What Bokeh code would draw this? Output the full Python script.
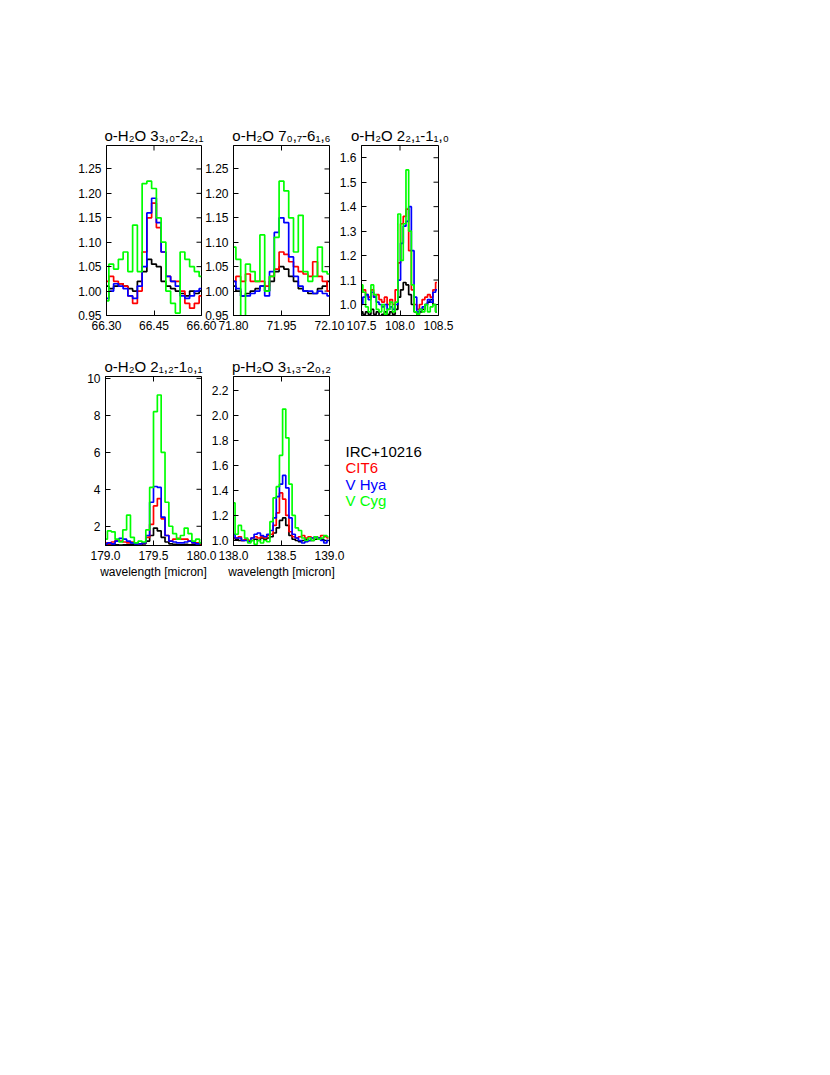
from bokeh.plotting import figure
from bokeh.models import Range1d, FixedTicker, PrintfTickFormatter, Spacer
from bokeh.layouts import row, column
from bokeh.embed import file_html
from bokeh.resources import INLINE
from bokeh.core.properties import value

FONT = "Liberation Sans"

names = ["IRC+10216", "CIT6", "V Hya", "V Cyg"]
colors = ["#000000", "#ff0000", "#0000ff", "#00ff00"]

# ---------- panel 1: o-H2O 3_30-2_21 ----------
title1 = "o-H\u2082O 3\u2083,\u2080-2\u2082,\u2081"
wl1 = [66.300, 66.315, 66.330, 66.345, 66.360, 66.375, 66.390, 66.405, 66.420, 66.435, 66.450,
       66.465, 66.480, 66.495, 66.510, 66.525, 66.540, 66.555, 66.570, 66.585, 66.600]
irc1 = [1.010, 1.005, 1.010, 1.015, 1.010, 1.005, 1.000, 1.020, 1.040, 1.065, 1.055,
        1.050, 1.020, 1.010, 1.005, 1.000, 0.995, 0.990, 1.000, 0.995, 1.000]
cit1 = [1.020, 1.030, 1.020, 1.015, 1.010, 0.990, 0.975, 1.000, 1.080, 1.150, 1.180,
        1.130, 1.080, 1.030, 1.020, 1.020, 1.000, 0.975, 0.965, 0.975, 0.990]
vhya1 = [0.985, 1.000, 1.015, 1.010, 1.005, 0.990, 0.985, 1.010, 1.050, 1.160, 1.190,
         1.140, 1.080, 1.030, 1.020, 1.010, 0.990, 0.985, 0.990, 1.000, 1.005]
vcyg1 = [0.980, 1.055, 1.045, 1.065, 1.080, 1.040, 1.135, 1.040, 1.220, 1.225, 1.210,
         1.150, 1.100, 1.000, 0.975, 0.955, 1.080, 1.065, 1.050, 1.040, 1.030]
xr1 = (66.30, 66.60)
yr1 = (0.95, 1.298)
xt1 = [66.30, 66.45, 66.60]
yt1 = [0.95, 1.00, 1.05, 1.10, 1.15, 1.20, 1.25]

# ---------- panel 2: o-H2O 7_07-6_16 ----------
title2 = "o-H\u2082O 7\u2080,\u2087-6\u2081,\u2086"
wl2 = [71.800, 71.815, 71.830, 71.845, 71.860, 71.875, 71.890, 71.905, 71.920, 71.935, 71.950,
       71.965, 71.980, 71.995, 72.010, 72.025, 72.040, 72.055, 72.070, 72.085, 72.100]
irc2 = [1.010, 1.000, 0.990, 0.995, 1.000, 1.005, 1.010, 1.000, 1.020, 1.040, 1.050,
        1.045, 1.030, 1.020, 1.005, 1.000, 0.995, 0.995, 1.005, 1.010, 1.020]
cit2 = [1.020, 1.030, 1.020, 1.035, 1.020, 1.020, 1.020, 1.010, 1.030, 1.045, 1.080,
        1.075, 1.060, 1.050, 1.040, 1.035, 1.030, 1.060, 1.030, 1.020, 1.000]
vhya2 = [1.020, 1.005, 0.990, 0.990, 0.995, 1.000, 1.010, 0.990, 1.040, 1.120, 1.150,
         1.140, 1.070, 1.030, 1.010, 1.000, 1.000, 0.995, 1.000, 0.995, 0.990]
vcyg2 = [1.090, 1.065, 0.930, 1.055, 1.040, 1.020, 1.115, 1.000, 1.030, 1.110, 1.225,
         1.205, 1.150, 1.080, 1.155, 1.040, 1.020, 1.030, 1.090, 1.040, 1.035]
xr2 = (71.80, 72.10)
yr2 = (0.95, 1.298)
xt2 = [71.80, 71.95, 72.10]
yt2 = [0.95, 1.00, 1.05, 1.10, 1.15, 1.20, 1.25]

# ---------- panel 3: o-H2O 2_21-1_10 ----------
title3 = "o-H\u2082O 2\u2082,\u2081-1\u2081,\u2080"
wl3 = [107.500, 107.535, 107.570, 107.605, 107.640, 107.675, 107.710, 107.745, 107.780, 107.815,
       107.850, 107.885, 107.920, 107.955, 107.990, 108.025, 108.060, 108.095, 108.130, 108.165,
       108.200, 108.235, 108.270, 108.305, 108.340, 108.375, 108.410, 108.445, 108.480]
irc3 = [0.97, 0.96, 0.97, 0.96, 0.98, 0.96, 0.97, 0.95, 0.96, 0.97,
        0.96, 0.97, 0.96, 0.98, 1.03, 1.06, 1.09, 1.08, 1.04, 1.00,
        0.97, 0.96, 0.97, 0.98, 1.00, 1.01, 1.02, 1.00, 0.97]
cit3 = [1.05, 1.06, 1.04, 1.03, 1.06, 1.03, 1.04, 1.02, 1.01, 1.03,
        1.00, 1.02, 1.00, 1.06, 1.17, 1.33, 1.36, 1.39, 1.22, 1.06,
        1.00, 0.98, 1.00, 1.02, 1.03, 1.04, 1.03, 1.06, 1.09]
vhya3 = [1.00, 1.03, 1.04, 1.02, 1.05, 1.03, 1.01, 1.00, 0.99, 1.00,
         0.98, 0.99, 0.98, 1.00, 1.10, 1.25, 1.32, 1.34, 1.40, 1.22,
         1.03, 0.97, 0.98, 0.99, 1.00, 1.02, 1.01, 1.05, 1.06]
vcyg3 = [1.08, 1.05, 0.99, 0.97, 1.08, 1.04, 0.98, 0.97, 1.00, 0.96,
         0.98, 1.01, 0.97, 1.01, 1.37, 1.18, 1.33, 1.55, 1.30, 1.08,
         0.97, 0.96, 0.98, 0.97, 1.00, 0.97, 0.99, 1.00, 0.97]
xr3 = (107.5, 108.5)
yr3 = (0.955, 1.65)
xt3 = [107.5, 108.0, 108.5]
yt3 = [1.0, 1.1, 1.2, 1.3, 1.4, 1.5, 1.6]

# ---------- panel 4: o-H2O 2_12-1_01 ----------
title4 = "o-H\u2082O 2\u2081,\u2082-1\u2080,\u2081"
wl4 = [179.00, 179.04, 179.08, 179.12, 179.16, 179.20, 179.24, 179.28, 179.32, 179.36,
       179.40, 179.44, 179.48, 179.52, 179.56, 179.60, 179.64, 179.68, 179.72, 179.76,
       179.80, 179.84, 179.88, 179.92, 179.96, 180.00]
irc4 = [1.00, 1.00, 1.02, 1.00, 0.98, 1.00, 1.00, 1.02, 1.00, 1.00,
        1.05, 1.20, 1.50, 1.90, 1.75, 1.40, 1.15, 1.05, 1.02, 1.00,
        1.00, 1.02, 1.00, 1.00, 0.98, 1.00]
cit4 = [1.10, 1.05, 1.15, 1.25, 1.20, 1.15, 1.10, 1.15, 1.10, 1.05,
        1.10, 1.40, 2.10, 3.10, 3.50, 2.40, 1.50, 1.20, 1.30, 1.35,
        1.30, 1.30, 1.20, 1.10, 1.10, 1.05]
vhya4 = [1.05, 1.10, 1.05, 1.20, 1.35, 1.30, 1.20, 1.10, 1.05, 1.05,
         1.10, 1.50, 3.30, 4.15, 4.10, 2.50, 1.50, 1.20, 1.15, 1.10,
         1.10, 1.15, 1.20, 1.10, 1.05, 1.10]
vcyg4 = [1.30, 1.75, 1.70, 1.30, 1.15, 1.80, 2.60, 1.40, 1.10, 1.20,
         1.15, 1.80, 4.10, 8.20, 9.10, 6.00, 3.30, 2.00, 1.60, 1.30,
         1.50, 1.90, 1.60, 1.20, 1.30, 1.10]
xr4 = (179.0, 180.0)
yr4 = (0.96, 10.1)
xt4 = [179.0, 179.5, 180.0]
yt4 = [2, 4, 6, 8, 10]

# ---------- panel 5: p-H2O 3_13-2_02 ----------
title5 = "p-H\u2082O 3\u2081,\u2083-2\u2080,\u2082"
wl5 = [138.000, 138.033, 138.066, 138.099, 138.132, 138.165, 138.198, 138.231, 138.264, 138.297,
       138.330, 138.363, 138.396, 138.429, 138.462, 138.495, 138.528, 138.561, 138.594, 138.627,
       138.660, 138.693, 138.726, 138.759, 138.792, 138.825, 138.858, 138.891, 138.924, 138.957,
       138.990]
irc5 = [1.02, 1.01, 1.00, 1.00, 1.01, 1.00, 1.00, 1.01, 1.00, 1.02,
        1.01, 1.02, 1.03, 1.06, 1.10, 1.16, 1.18, 1.12, 1.04, 1.01,
        1.00, 0.99, 1.00, 1.01, 1.00, 1.00, 1.01, 1.02, 1.01, 1.00,
        1.00]
cit5 = [1.02, 1.02, 1.03, 1.00, 1.01, 1.00, 1.02, 1.03, 1.02, 1.03,
        1.02, 1.04, 1.05, 1.12, 1.22, 1.38, 1.33, 1.20, 1.07, 1.03,
        1.02, 1.03, 1.04, 1.02, 1.03, 1.02, 1.03, 1.02, 1.04, 1.03,
        1.02]
vhya5 = [1.05, 1.02, 1.02, 1.00, 1.00, 0.99, 1.02, 1.05, 1.06, 1.04,
         1.03, 1.05, 1.08, 1.18, 1.35, 1.45, 1.52, 1.42, 1.18, 1.05,
         1.02, 1.00, 0.98, 0.99, 1.00, 1.02, 1.03, 1.02, 1.00, 0.98,
         1.00]
vcyg5 = [1.30, 1.05, 1.12, 1.08, 1.02, 0.98, 1.00, 0.97, 1.00, 0.98,
         1.00, 0.99, 1.15, 1.34, 1.43, 1.68, 2.05, 1.82, 1.45, 1.20,
         1.10, 1.08, 1.02, 1.00, 1.02, 1.00, 1.03, 1.01, 1.02, 1.04,
         1.03]
xr5 = (138.0, 139.0)
yr5 = (0.96, 2.31)
xt5 = [138.0, 138.5, 139.0]
yt5 = [1.0, 1.2, 1.4, 1.6, 1.8, 2.0, 2.2]

xlabel = "wavelength [micron]"

TICK = 5  # inward tick length in px
LB, RB = 45, 22  # canvas borders left/right of each frame


def style_axis(ax, ticks, fmt):
    ax.ticker = FixedTicker(ticks=ticks)
    ax.formatter = PrintfTickFormatter(format=fmt)
    ax.major_tick_in = TICK
    ax.major_tick_out = 0
    ax.minor_tick_in = 0
    ax.minor_tick_out = 0
    ax.axis_line_color = "black"
    ax.major_tick_line_color = "black"
    ax.major_label_text_font = FONT
    ax.major_label_text_color = "black"
    ax.major_label_text_font_size = "12px"
    ax.major_label_standoff = 5


def panel(title, wl, series, xr, yr, xt, yt, xfmt, yfmt, T, B, fw, fh, with_xlabel, ml):
    p = figure(width=LB + fw + RB, height=T + fh + B,
               x_range=Range1d(*xr), y_range=Range1d(*yr),
               output_backend="svg", toolbar_location=None,
               min_border_left=LB, min_border_right=RB,
               min_border_top=T, min_border_bottom=B,
               margin=(0, 0, 0, ml))
    p.grid.visible = False
    p.outline_line_color = "black"
    p.background_fill_color = "white"
    p.border_fill_color = None
    p.title.text = title
    p.title.align = "center"
    p.title.text_font = FONT
    p.title.text_font_size = "15px"
    p.title.text_font_style = "normal"
    p.title.text_color = "black"
    p.title.standoff = 3
    style_axis(p.xaxis[0], xt, xfmt)
    style_axis(p.yaxis[0], yt, yfmt)
    if with_xlabel:
        ax = p.xaxis[0]
        ax.axis_label = xlabel
        ax.axis_label_text_font = FONT
        ax.axis_label_text_font_size = "12px"
        ax.axis_label_text_font_style = "normal"
        ax.axis_label_text_color = "black"
        ax.axis_label_standoff = 2
    # inward ticks on the top and right frame edges (IDL box style)
    dy = TICK * (yr[1] - yr[0]) / fh
    dx = TICK * (xr[1] - xr[0]) / fw
    p.segment(x0=xt, y0=[yr[1]] * len(xt), x1=xt, y1=[yr[1] - dy] * len(xt),
              line_color="black", line_width=1)
    p.segment(x0=[xr[1]] * len(yt), y0=yt, x1=[xr[1] - dx] * len(yt), y1=yt,
              line_color="black", line_width=1)
    for ys, c in zip(series, colors):
        p.step(wl, ys, mode="center", line_color=c, line_width=1.7)
    return p


T1, B1 = 40, 30
T2, B2 = 31, 45
FH2 = 169
p1 = panel(title1, wl1, [irc1, cit1, vhya1, vcyg1], xr1, yr1, xt1, yt1, "%.2f", "%.2f",
           T1, B1, 95, 170, False, 61)
p2 = panel(title2, wl2, [irc2, cit2, vhya2, vcyg2], xr2, yr2, xt2, yt2, "%.2f", "%.2f",
           T1, B1, 96, 170, False, -35)
p3 = panel(title3, wl3, [irc3, cit3, vhya3, vcyg3], xr3, yr3, xt3, yt3, "%.1f", "%.1f",
           T1, B1, 77, 170, False, -35)
p4 = panel(title4, wl4, [irc4, cit4, vhya4, vcyg4], xr4, yr4, xt4, yt4, "%.1f", "%d",
           T2, B2, 96, FH2, True, 60)
p5 = panel(title5, wl5, [irc5, cit5, vhya5, vcyg5], xr5, yr5, xt5, yt5, "%.1f", "%.1f",
           T2, B2, 96, FH2, True, -35)

# legend panel (text only); its frame lines up with the row's frames,
# so the y range is expressed in pixels from the frame top
LW = 150
pl = figure(width=LW, height=T2 + FH2 + B2, x_range=Range1d(0, LW), y_range=Range1d(FH2, 0),
            output_backend="svg", toolbar_location=None,
            min_border_left=0, min_border_right=0, min_border_top=T2, min_border_bottom=B2,
            x_axis_type=None, y_axis_type=None, margin=(0, 0, 0, -20))
pl.grid.visible = False
pl.outline_line_color = None
pl.border_fill_color = None
pl.background_fill_color = None
leg_x = [14] * len(names)
leg_y = [75 + 16.4 * i for i in range(len(names))]
pl.text(x=leg_x, y=leg_y, text=names, text_color=colors,
        text_font=value(FONT), text_font_size="15px", text_baseline="middle", text_align="left")

layout = column(Spacer(height=105), row(p1, p2, p3), row(p4, p5, pl))

open("out.html", "w").write(file_html(layout, INLINE))
